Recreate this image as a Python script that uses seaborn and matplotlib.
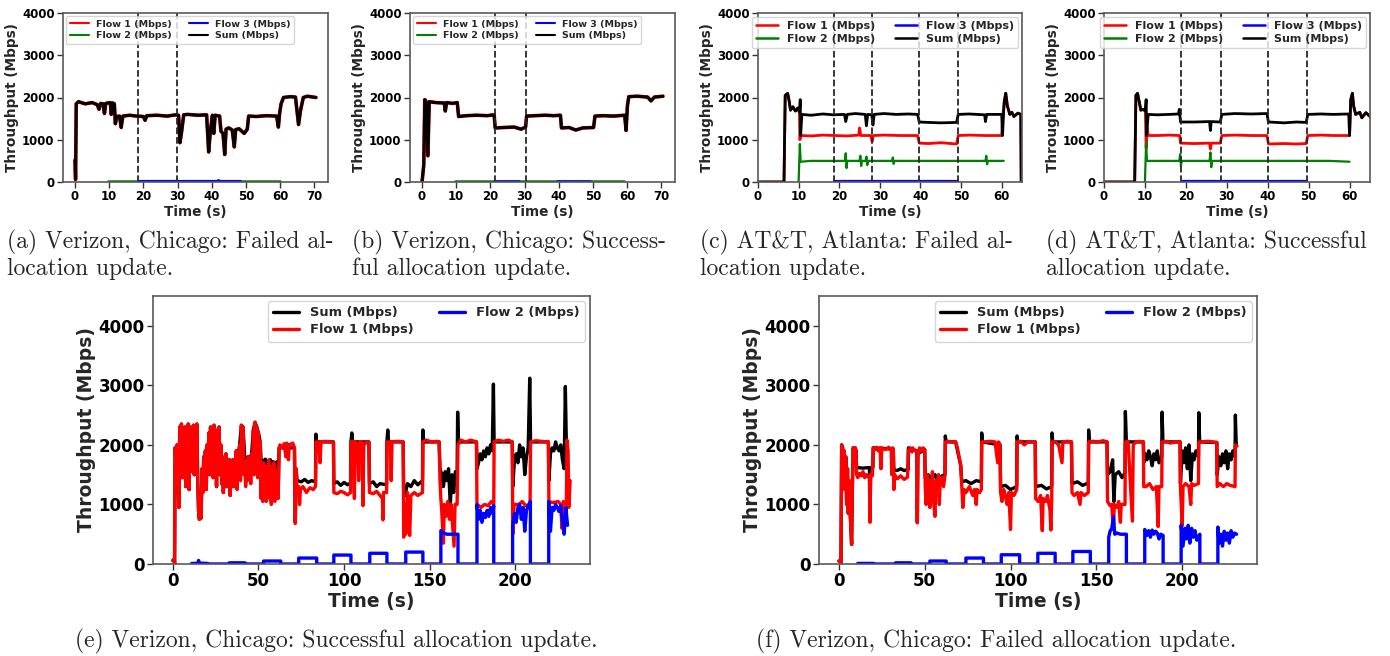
import numpy as np
import pandas as pd
import matplotlib
matplotlib.use("Agg")
import matplotlib.pyplot as plt
import seaborn as sns

# ---- data: (time s, Mbps) ----
# (a) Verizon Chicago, failed update -- Flow 1 and Sum overlap
a_trace = [(0, 520), (0.15, 60), (0.35, 1850), (1, 1900), (3, 1850), (5, 1880), (6.5, 1830), (7, 1720),
           (7.5, 1860), (8.2, 1850), (8.6, 1620), (9, 1860), (10.3, 1880), (10.6, 1600), (11, 1870),
           (11.5, 1850), (11.8, 1380), (12.2, 1550), (13, 1560), (13.5, 1290), (14, 1560), (16, 1580),
           (18, 1560), (20, 1550), (20.5, 1460), (21, 1570), (24, 1580), (27, 1560), (29.5, 1590),
           (30.3, 1580), (30.7, 930), (31.2, 1200), (31.8, 1590), (33, 1600), (36, 1580), (38.5, 1590),
           (39.1, 710), (39.6, 1200), (40.2, 1580), (40.6, 1150), (41, 1580), (42.3, 1560), (42.7, 1200),
           (43.3, 1150), (43.8, 650), (44.2, 1250), (45, 1280), (46, 1230), (46.6, 830), (47, 1240),
           (48, 1260), (49.5, 1150), (50.4, 1250), (50.8, 1560), (53, 1550), (56, 1570), (59, 1560),
           (59.5, 1300), (59.9, 1650), (60.3, 1850), (61, 2000), (63, 2020), (64.5, 2010), (65.4, 1360),
           (66, 1700), (66.8, 2000), (68, 2030), (70.5, 2000)]
a_flow2 = [(9.5, 20), (60, 20)]
a_flow3 = [(18.5, 20), (41.5, 20), (42, 40), (42.5, 20), (48.5, 20)]
a_events = [18.5, 29.8]

# (b) Verizon Chicago, successful update
b_trace = [(0, 0), (0.5, 400), (0.8, 1950), (1.2, 1900), (1.7, 620), (2.1, 1900), (4, 1880), (6.5, 1870),
           (6.8, 1680), (7.2, 1880), (9, 1860), (10.3, 1880), (10.7, 1550), (13, 1570), (16, 1580),
           (19, 1570), (21.1, 1590), (21.4, 1280), (24, 1290), (27, 1300), (29, 1250), (30.3, 1300),
           (30.6, 1560), (33, 1570), (36, 1580), (38.5, 1570), (40.5, 1580), (40.8, 1280), (43, 1290),
           (45, 1230), (47, 1280), (50.2, 1290), (50.6, 1560), (53, 1570), (56, 1560), (59.3, 1580),
           (59.7, 1220), (60.1, 1800), (60.5, 2020), (63, 2030), (66, 2010), (67, 1920), (68, 2010),
           (70.5, 2030)]
b_flow2 = [(9.5, 20), (59, 20)]
b_flow3 = [[(21.1, 20), (28.4, 20)], [(39.4, 20), (49.2, 20)]]
b_events = [21.3, 30.5]

# (c) AT&T Atlanta, failed update
c_start = [(0, 0), (6.4, 0), (6.7, 2050), (7.3, 2100), (7.7, 1900), (8, 1700), (8.6, 1780), (9.2, 1680),
           (9.8, 1750), (10.2, 1650)]
c_end = [(61, 2100), (61.4, 1800), (62, 1600), (62.5, 1650), (63, 1550), (64, 1630), (64.7, 1600), (64.8, 0)]
c_sum = [(10.4, 1950), (10.5, 1100), (10.8, 1600), (13, 1580), (16, 1610), (18.5, 1590), (21.3, 1600),
         (21.6, 1430), (22, 1600), (24, 1620), (26.4, 1600), (26.7, 1330), (27, 1600), (28, 1590),
         (28.3, 1350), (28.6, 1600), (31, 1620), (34, 1600), (37, 1610), (39.3, 1600), (39.7, 1420),
         (42, 1410), (45, 1400), (48.9, 1410), (49.3, 1600), (52, 1610), (55.8, 1590), (56, 1430),
         (56.3, 1600), (60, 1600), (60.2, 1100), (60.6, 1900)]
c_flow1 = [(10.3, 1000), (10.6, 1100), (13, 1090), (16, 1110), (19, 1100), (22, 1090), (24.8, 1110),
           (25, 1280), (25.3, 1100), (27.8, 1100), (28.1, 960), (28.4, 1100), (31, 1110), (35, 1100),
           (39.3, 1100), (39.7, 920), (42, 910), (45, 930), (48.9, 900), (49.3, 1100), (52, 1110),
           (56, 1100), (60, 1100), (60.3, 1600)]
c_flow2 = [(10, 0), (10.3, 900), (10.5, 480), (13, 500), (16, 500), (19, 500), (21.4, 500), (21.6, 680),
           (21.8, 330), (22, 500), (25, 500), (25.2, 620), (25.4, 380), (25.6, 500), (26.5, 500),
           (26.7, 600), (26.9, 400), (27.1, 500), (33, 500), (33.2, 580), (33.4, 430), (33.6, 500),
           (40, 500), (50, 500), (56, 500), (56.2, 620), (56.4, 420), (56.6, 500), (60.5, 500)]
c_flow3 = [(18.8, 12), (49.2, 12)]
c_events = [18.7, 28.0, 39.7, 49.2]

# (d) AT&T Atlanta, successful update
d_start = [(0, 0), (7.5, 0), (7.8, 2050), (8.2, 2100), (8.6, 1900), (9, 1700), (9.5, 1720), (10.1, 1680)]
d_end = [(60.3, 1950), (60.7, 2100), (61, 1800), (61.5, 1600), (62.5, 1650), (63, 1520), (64, 1640), (65, 1550)]
d_sum = [(10.3, 1950), (10.4, 1100), (10.8, 1600), (13, 1590), (16, 1600), (18.2, 1610), (18.4, 1720),
         (18.7, 1420), (22, 1420), (25.8, 1430), (26, 1220), (26.2, 1430), (28.4, 1420), (28.8, 1600),
         (32, 1620), (36, 1610), (39.8, 1620), (40.2, 1420), (44, 1400), (47, 1420), (49.4, 1410),
         (49.8, 1600), (53, 1610), (56, 1600), (59.8, 1610), (60, 1100)]
d_flow1 = [(10.3, 800), (10.5, 1300), (10.8, 1100), (13, 1100), (16, 1110), (18.5, 1100), (18.7, 920),
           (22, 910), (25.8, 920), (26, 780), (26.2, 920), (28.4, 920), (28.8, 1100), (32, 1110),
           (36, 1100), (39.8, 1100), (40.2, 900), (44, 910), (47, 900), (49.4, 910), (49.8, 1100),
           (53, 1110), (56, 1100), (60, 1100)]
d_flow2 = [(10, 0), (10.3, 950), (10.5, 500), (14, 500), (18.4, 500), (18.6, 660), (18.8, 380), (19, 500),
           (25.8, 500), (26, 700), (26.2, 350), (26.4, 500), (35, 500), (45, 500), (55, 500), (60, 480)]
d_flow3 = [(19, 12), (49.5, 12)]
d_events = [18.8, 28.5, 40.0, 49.5]

# (e) Verizon Chicago, successful update (long run)
e_start = [(0, 60), (0.8, 80), (1, 0), (1.3, 1950), (2, 1700), (2.5, 2000), (3, 1500), (3.5, 950), (4, 2300),
           (4.5, 1700), (5, 2350), (5.5, 1450), (6, 2100), (6.5, 1800), (7, 2300), (7.5, 1300), (8, 2250),
           (8.5, 1600), (9, 2350), (9.5, 1250), (10, 2300), (10.5, 1700), (11, 2280), (11.5, 1550),
           (12, 2330), (12.5, 1500), (13, 1900), (13.5, 1550), (14, 2350), (14.5, 1400), (15, 900),
           (15.5, 750), (16, 1100), (16.5, 770), (17, 1600), (17.5, 1200), (18, 1800), (18.5, 1350),
           (19, 1900), (19.5, 1250), (20, 2000), (20.5, 1600), (21, 2200), (21.5, 1500), (22, 2300),
           (22.5, 1700), (23, 2250), (23.5, 1450), (24, 2330), (24.5, 1900), (25, 2100), (25.5, 1300),
           (26, 2250), (26.5, 1700), (27, 2300), (27.5, 1500), (28, 2000), (28.5, 1350), (29, 1800),
           (29.5, 1200), (30, 1700), (30.5, 1500), (31, 1850), (31.5, 1300), (32, 1700), (32.5, 1450),
           (33, 1750), (33.5, 1150), (34, 1650), (34.5, 1500), (35, 1750), (35.5, 1300), (36, 1700),
           (36.5, 1500)]
e_flow1 = [(37, 1900), (37.5, 1250), (38, 1800), (38.5, 1500), (39, 2000), (39.5, 1400), (40, 2330),
           (40.5, 1800), (41, 2300), (41.5, 1500), (42, 1700), (42.5, 1300), (43, 1600), (43.5, 1400),
           (44, 1800), (44.5, 1500), (45, 1700), (45.5, 1350), (46, 1850), (46.5, 1600), (47, 2250),
           (47.5, 1500), (48, 2380), (48.5, 1700), (49, 2300), (49.5, 1450), (50, 2200), (50.5, 1600),
           (51, 2050), (51.5, 1100), (52, 1600), (52.5, 1050), (53, 1700), (53.5, 1300), (54, 1650),
           (54.5, 1050), (55, 1600), (55.5, 1400), (56, 1750), (56.5, 1100), (57, 1650), (57.5, 1000),
           (58, 1550), (58.5, 1250), (59, 1700), (59.5, 1050), (60, 1500), (60.5, 1200), (61, 1600),
           (61.5, 1100), (62, 1900), (62.5, 2000), (64, 1950), (65, 2020), (66, 1800), (66.5, 2030),
           (67.5, 1750), (68, 2000), (70, 2030), (71, 1950), (71.5, 680), (72, 1600), (72.5, 1250),
           (73.5, 1300), (74, 1000), (74.5, 1250), (76, 1300), (78, 1200), (80, 1280), (82, 1250),
           (83.3, 1300), (83.6, 2050), (85, 2050), (86, 1700), (86.5, 2050), (89, 2060), (92, 2050),
           (93.8, 2040), (94, 1200), (96, 1180), (98, 1220), (100, 1200), (102, 1160), (103.8, 1200),
           (104, 2050), (105.5, 2060), (106, 1100), (106.5, 2050), (108, 2000), (108.5, 1400),
           (109, 2050), (110.5, 2050), (111, 980), (111.5, 2000), (113.5, 2050), (114.5, 2040),
           (114.8, 1200), (117, 1180), (119, 1220), (121, 1150), (122.4, 1100), (122.7, 740), (123, 1200),
           (124.8, 1200), (125, 2050), (127, 2050), (127.5, 1400), (128, 2050), (131, 2060), (134.5, 2050),
           (134.8, 450), (135.5, 1000), (136, 500), (137, 1200), (138.3, 480), (139, 1150), (141, 1200),
           (143, 1150), (145.8, 1200), (146, 2050), (148, 2080), (151, 2050), (154, 2060), (155.5, 2050),
           (156, 1400), (156.5, 1100), (157, 900), (158, 350), (158.5, 1000), (159.5, 800), (160.5, 1050),
           (161.5, 750), (162.5, 1000), (163.5, 600), (164.2, 300), (164.8, 1000), (166, 1000),
           (166.5, 2000), (168, 2080), (171, 2050), (174, 2080), (177.3, 2050), (177.6, 1000), (180, 950),
           (182, 1000), (184, 980), (186, 1050), (187.4, 1000), (187.6, 2050), (190, 2080), (193, 2060),
           (196, 2080), (198.2, 2050), (198.5, 500), (199.3, 1000), (202, 1000), (204, 1050), (206, 980),
           (208.6, 1000), (208.9, 2050), (212, 2070), (215, 2060), (219.3, 2050), (219.6, 1050),
           (222, 1030), (225, 1050), (226.5, 1000), (227.2, 600), (228, 1050), (229.8, 1000),
           (230.2, 2080), (230.8, 1900), (231.2, 950), (232, 1400)]
e_sum = [(37, 1900), (38, 1800), (39, 2000), (40, 2330), (41, 2300), (42, 1780), (43, 1760), (44, 1800),
         (45, 1780), (46, 1850), (47, 2250), (48, 2380), (49, 2300), (50, 2200), (51, 2050), (51.5, 1750),
         (52.5, 1720), (54, 1760), (54.5, 1100), (55, 1700), (57, 1750), (57.5, 1050), (58, 1720),
         (60, 1700), (61, 1720), (61.5, 1150), (62, 1950), (71, 1950), (71.5, 700), (72, 1600),
         (72.5, 1400), (75, 1380), (77, 1420), (79, 1370), (81, 1400), (83.3, 1380), (83.5, 2180),
         (84, 2050), (93.8, 2050), (94, 1350), (96, 1380), (98, 1320), (100, 1370), (102, 1330),
         (103.8, 1360), (104, 2050), (104.5, 2200), (105, 2050), (114.5, 2050), (114.8, 1350),
         (117, 1380), (119, 1300), (121, 1350), (124.8, 1330), (125, 2050), (125.5, 2250), (126, 2050),
         (134.5, 2050), (134.8, 1200), (135.5, 1150), (137, 1350), (139, 1300), (141, 1400), (143, 1330),
         (145.8, 1400), (146, 2250), (146.5, 2050), (155.5, 2050), (156, 1600), (157, 1500), (158, 1300),
         (159, 1550), (160, 1400), (161, 1600), (162, 1000), (163, 1500), (164, 1200), (165, 1550),
         (166, 1500), (166.3, 2550), (166.8, 2050), (177.3, 2050), (177.6, 1600), (178.5, 1700),
         (179.5, 1850), (180.5, 1750), (181.5, 1900), (182.5, 1800), (183.5, 1950), (184.5, 1850),
         (185.5, 2000), (186.5, 1900), (187.2, 3020), (187.6, 2050), (198.2, 2050), (198.5, 1300),
         (199.5, 1750), (200.5, 1850), (201.5, 1700), (202.5, 2000), (203.5, 1800), (204.5, 1950),
         (205.5, 1500), (206.5, 1800), (207.5, 1950), (208.4, 3120), (208.9, 2050), (219.3, 2050),
         (219.6, 1400), (220.5, 1850), (221.5, 1950), (222.5, 1900), (223.5, 2050), (224.5, 1950),
         (225.5, 1900), (226.5, 2000), (227.5, 1750), (228.5, 1600), (229.2, 2980), (229.8, 2000),
         (230.5, 2050)]
e_flow2 = [(11, 0), (11, 10), (14.5, 10), (15, 60), (15.5, 15), (20, 10), (20, 0), (33, 0), (33, 20), (42, 20),
           (42, 0), (53, 0), (53, 50), (63, 50), (63, 0), (73.5, 0), (73.5, 100), (84, 100), (84, 0),
           (94, 0), (94, 150), (104, 150), (104, 0), (115, 0), (115, 180), (125, 180), (125, 0), (136, 0),
           (136, 200), (146, 200), (146, 0), (156.5, 0), (156.5, 560), (158, 520), (160, 500), (166.5, 500),
           (166.5, 0), (177.6, 0), (177.6, 1000), (178.5, 750), (179.5, 900), (180.5, 700), (181.5, 850),
           (182.5, 780), (183.5, 900), (184.5, 800), (185.5, 950), (186.5, 850), (187.4, 980), (187.4, 0),
           (198.4, 0), (198.4, 650), (199.5, 850), (200.5, 700), (201.5, 950), (202.5, 1000), (203.5, 750),
           (204.5, 950), (205.5, 550), (206.5, 900), (207.5, 980), (208.8, 1050), (208.8, 0), (219.5, 0),
           (219.5, 1050), (220.5, 550), (221.5, 950), (222.5, 900), (223.5, 1000), (224.5, 950),
           (225.5, 880), (226.5, 980), (227.5, 700), (228.5, 500), (229.5, 950), (230.5, 650)]

# (f) Verizon Chicago, failed update (long run)
f_start = [(0, 50), (0.8, 60), (1.2, 0), (1.6, 2000), (2.2, 1950), (2.6, 1300), (3, 1900), (3.5, 1250),
           (4, 1800), (4.5, 1000), (5, 1600), (5.5, 850), (6, 1400), (6.5, 900), (7, 600), (7.4, 330),
           (7.8, 1200), (8.3, 1950), (9, 1850), (9.5, 1950), (10, 1900)]
f_flow1 = [(10.3, 1500), (11, 1450), (12, 1520), (13, 1480), (14, 1550), (15, 1450), (16, 1500), (17, 1470),
           (17.8, 1450), (18.1, 700), (18.5, 1500), (19.5, 1480), (20, 1950), (21, 1920), (22, 1960),
           (23, 1900), (24, 1950), (24.5, 1600), (25, 1950), (27, 1920), (29, 1960), (30.5, 1900),
           (30.8, 1500), (31.3, 1950), (31.7, 1930), (32, 1250), (32.5, 1500), (34, 1430), (36, 1480),
           (38, 1420), (40, 1460), (40.5, 1900), (41.5, 1950), (42.5, 1880), (43, 1950), (44, 1900),
           (45.4, 1900), (45.7, 690), (46, 1800), (47, 1950), (48, 1900), (49, 1950), (50, 1920),
           (50.3, 1300), (50.8, 1000), (51.5, 1500), (52, 1050), (52.5, 1400), (53, 950), (54, 1300),
           (54.5, 1550), (55, 1100), (56, 800), (56.5, 1400), (57, 1150), (58, 1500), (58.5, 1000),
           (59, 1350), (60, 1450), (61, 1300), (61.8, 1500), (62, 2050), (64, 2060), (66, 2050), (68, 2050),
           (69, 1950), (70, 1800), (71, 1650), (71.6, 1300), (72.2, 950), (73, 1250), (74, 1200), (76, 1300),
           (78, 1150), (79, 1250), (80, 1000), (80.5, 1250), (82, 1200), (83, 1250), (83.2, 2050), (85, 2050),
           (88, 2060), (91, 2050), (92.5, 1700), (93, 2050), (93.9, 2000), (94.2, 1200), (95, 1050),
           (96, 1250), (97, 1150), (98, 1000), (99, 1200), (100, 580), (100.5, 1200), (102, 1150),
           (103.6, 1250), (103.8, 2050), (106, 2060), (108, 2000), (110, 2050), (113, 2050), (114.4, 2050),
           (114.6, 1100), (116, 1050), (117.5, 1150), (118.5, 560), (119, 1100), (120.5, 1050),
           (121.5, 1150), (123, 900), (123.5, 570), (124, 1100), (124.2, 2050), (126, 2050), (128, 2000),
           (130, 1700), (130.5, 2050), (133, 2060), (135.5, 2050), (135.8, 1200), (137, 1150), (139, 1200),
           (140.5, 1000), (141, 1200), (143, 1150), (145.3, 1200), (145.5, 2050), (148, 2060), (151, 2050),
           (154, 2070), (156.2, 2050), (156.5, 1050), (158, 980), (159, 1000), (159.8, 580), (160.5, 1000),
           (162, 950), (163, 1050), (164, 700), (164.5, 1000), (166.7, 1000), (166.9, 2050), (168.5, 2060),
           (171, 720), (171.5, 2000), (173, 2050), (175, 2060), (177.4, 2050), (177.6, 1300), (179, 1300),
           (181, 1350), (183, 1250), (185, 1300), (186, 630), (186.5, 1300), (188.1, 1300), (188.3, 2050),
           (191, 2060), (193, 2030), (196, 2050), (198.8, 2050), (199, 1300), (200, 640), (200.5, 1300),
           (202, 1350), (204, 1300), (205, 1000), (205.5, 1350), (207, 1320), (209.5, 1350), (209.7, 2050),
           (212, 2050), (215, 2060), (218, 2050), (220.2, 2040), (220.4, 1300), (222, 1350), (224, 1300),
           (226, 1350), (228, 1320), (230.8, 1300), (231, 2000), (232, 1980)]
f_sum = [(10.3, 1620), (14, 1610), (17.8, 1620), (18.1, 720), (18.5, 1610), (19.8, 1620), (20, 1950),
         (31.7, 1930), (32, 1580), (34, 1570), (36, 1600), (38, 1570), (40.3, 1590), (40.5, 1950),
         (45.4, 1900), (45.7, 700), (46, 1850), (50, 1920), (50.3, 1450), (52, 1500), (54, 1420), (56, 1500),
         (58, 1350), (60, 1480), (61.8, 1500), (62, 2150), (62.5, 2050), (68, 2050), (71, 1650),
         (71.6, 1380), (74, 1400), (77, 1350), (80, 1400), (83, 1380), (83.2, 2200), (83.6, 2050),
         (93.9, 2000), (94.2, 1300), (97, 1320), (100, 1250), (103.6, 1300), (103.8, 2150), (104.2, 2050),
         (114.4, 2050), (114.6, 1300), (118, 1320), (121, 1260), (124, 1300), (124.2, 2200), (124.6, 2050),
         (135.5, 2050), (135.8, 1350), (139, 1380), (142, 1320), (145.3, 1360), (145.5, 2250),
         (145.9, 2050), (156.2, 2050), (156.5, 1500), (158, 1550), (159.5, 1750), (160.2, 1050),
         (161, 1500), (163, 1550), (165, 1450), (166.7, 1530), (166.9, 2560), (167.5, 2050), (177.4, 2050),
         (177.6, 1700), (178.5, 1850), (179.5, 1750), (180.5, 1900), (181.5, 1800), (182.5, 1650),
         (183.5, 1850), (184.5, 1750), (185.5, 1900), (186.5, 1700), (188.1, 1800), (188.3, 2550),
         (188.8, 2050), (198.8, 2050), (199, 1350), (200, 1900), (201, 1700), (202, 1950), (203, 1600),
         (204, 2000), (205, 1400), (206, 1850), (207, 1750), (208, 1900), (209.5, 1800), (209.7, 2540),
         (210.2, 2050), (220.2, 2040), (220.4, 1500), (221.5, 1800), (222.5, 1650), (223.5, 1850),
         (224.5, 1700), (225.5, 1900), (226.5, 1600), (227.5, 1850), (228.5, 1750), (229.5, 1900),
         (230.8, 1800), (231, 2500), (231.5, 2000)]
f_flow2 = [(11, 0), (11, 10), (20, 10), (20, 0), (33, 0), (33, 20), (42, 20), (42, 0), (53, 0), (53, 50),
           (62.5, 50), (62.5, 0), (74, 0), (74, 100), (84.2, 100), (84.2, 0), (94.6, 0), (94.6, 155),
           (105.3, 155), (105.3, 0), (115.9, 0), (115.9, 180), (126, 180), (126, 0), (136.3, 0), (136.3, 210),
           (146.5, 210), (146.5, 0), (157.2, 0), (157.2, 450), (158, 550), (159, 600), (160, 800),
           (160.7, 500), (162, 520), (164, 500), (167.5, 500), (167.5, 0), (178.2, 0), (178.2, 580),
           (179.5, 480), (180.5, 560), (181.5, 450), (182.5, 570), (183.5, 500), (184.5, 550), (185.5, 520),
           (186.5, 420), (187.5, 500), (188.9, 480), (188.9, 0), (199.4, 0), (199.4, 650), (200.5, 300),
           (201.5, 600), (202.5, 420), (203.5, 650), (204.5, 350), (205.5, 600), (206.5, 450), (207.5, 560),
           (208.5, 400), (210.3, 500), (210.3, 0), (220.8, 0), (220.8, 620), (221.5, 350), (222.5, 500),
           (223.5, 300), (224.5, 550), (225.5, 400), (226.5, 520), (227.5, 350), (228.5, 560), (229.5, 450),
           (230.5, 520), (231.7, 500)]

captions_top = [("(a) Verizon, Chicago: Failed al-", "location update."),
                ("(b) Verizon, Chicago: Success-", "ful allocation update."),
                ("(c) AT&T, Atlanta: Failed al-", "location update."),
                ("(d) AT&T, Atlanta: Successful", "allocation update.")]
captions_bottom = ["(e) Verizon, Chicago: Successful allocation update.",
                   "(f) Verizon, Chicago: Failed allocation update."]

RED, GREEN, BLUE, BLACK = "#ff0000", "#008000", "#0000ff", "#000000"

sns.set_style("ticks")
plt.rcParams["font.family"] = ["DejaVu Sans"]
plt.rcParams["font.weight"] = "bold"
plt.rcParams["axes.edgecolor"] = "0.35"
plt.rcParams["axes.linewidth"] = 1.2
plt.rcParams["xtick.color"] = "0.2"
plt.rcParams["ytick.color"] = "0.2"
plt.rcParams["xtick.labelcolor"] = "black"
plt.rcParams["ytick.labelcolor"] = "black"

W, H = 1390, 656
fig = plt.figure(figsize=(W / 100, H / 100), dpi=100)


def box(l, t, r, b):
    return fig.add_axes([l / W, 1 - b / H, (r - l) / W, (b - t) / H])


def line(ax, pts, color, lw, label=None):
    df = pd.DataFrame(pts, columns=["t", "v"])
    sns.lineplot(data=df, x="t", y="v", ax=ax, color=color, linewidth=lw,
                 label=label if label else "_nolegend_", estimator=None, sort=False)


def style(ax, tick_fs, lab_fs):
    ax.set_xlabel("Time (s)", fontsize=lab_fs, fontweight="bold", labelpad=1)
    ax.set_ylabel("Throughput (Mbps)", fontsize=lab_fs, fontweight="bold", labelpad=2)
    ax.tick_params(labelsize=tick_fs, length=4, width=1, pad=2)


def legend(ax, fs, loc, handle_lw, **kw):
    leg = ax.legend(ncol=2, loc=loc, fontsize=fs, handlelength=2.0, labelspacing=0.3, **kw)
    for h in leg.get_lines():
        h.set_linewidth(handle_lw)


# ---- top row ----
top_boxes = [(63, 13, 328, 182), (410, 13, 675, 182), (758, 13, 1022, 182), (1104, 13, 1370, 182)]
caption_x = [7, 352, 700, 1046]
for i, bx in enumerate(top_boxes):
    ax = box(*bx)
    if i == 0:
        line(ax, a_trace, RED, 2.6, "Flow 1 (Mbps)")
        line(ax, a_flow2, GREEN, 1.8, "Flow 2 (Mbps)")
        line(ax, a_flow3, BLUE, 1.8, "Flow 3 (Mbps)")
        line(ax, a_trace, BLACK, 2.2, "Sum (Mbps)")
        events = a_events
    elif i == 1:
        line(ax, b_trace, RED, 2.6, "Flow 1 (Mbps)")
        line(ax, b_flow2, GREEN, 1.8, "Flow 2 (Mbps)")
        line(ax, b_flow3[0], BLUE, 1.8, "Flow 3 (Mbps)")
        line(ax, b_flow3[1], BLUE, 1.8)
        line(ax, b_trace, BLACK, 2.2, "Sum (Mbps)")
        events = b_events
    elif i == 2:
        line(ax, c_start + c_flow1 + c_end, RED, 2.0, "Flow 1 (Mbps)")
        line(ax, c_flow2, GREEN, 1.6, "Flow 2 (Mbps)")
        line(ax, c_flow3, BLUE, 1.6, "Flow 3 (Mbps)")
        line(ax, c_start + c_sum + c_end, BLACK, 2.0, "Sum (Mbps)")
        events = c_events
    else:
        line(ax, d_start + d_flow1 + d_end, RED, 2.0, "Flow 1 (Mbps)")
        line(ax, d_flow2, GREEN, 1.6, "Flow 2 (Mbps)")
        line(ax, d_flow3, BLUE, 1.6, "Flow 3 (Mbps)")
        line(ax, d_start + d_sum + d_end, BLACK, 2.0, "Sum (Mbps)")
        events = d_events
    for ev in events:
        ax.axvline(ev, color="0.15", ls="--", lw=1.3)
    ax.set_ylim(0, 4000)
    ax.set_yticks([0, 1000, 2000, 3000, 4000])
    if i < 2:
        ax.set_xticks(range(0, 71, 10))
        style(ax, 8.5, 9.8)
        legend(ax, 6.8, "upper left", 1.5, borderaxespad=0.35, columnspacing=1.8, borderpad=0.35)
    else:
        ax.set_xlim(0, 65)
        ax.set_xticks(range(0, 61, 10))
        style(ax, 8.5, 9.8)
        legend(ax, 8.0, "upper right", 1.8, borderaxespad=0.35, columnspacing=1.8, borderpad=0.35)
    l1, l2 = captions_top[i]
    for txt, yb in ((l1, 248), (l2, 275)):
        fig.text(caption_x[i] / W, 1 - yb / H, txt, family=["cmr10", "DejaVu Serif"],
                 fontsize=17, fontweight="normal", va="baseline", ha="left")

# ---- bottom row ----
bottom_boxes = [(153, 296, 590, 564), (819, 296, 1257, 564)]
bottom_sets = [(e_start + e_sum, e_start + e_flow1, e_flow2),
               (f_start + f_sum, f_start + f_flow1, f_flow2)]
caption_cx = [336, 996]
for i, bx in enumerate(bottom_boxes):
    ax = box(*bx)
    s, f1, f2 = bottom_sets[i]
    line(ax, s, BLACK, 2.4, "Sum (Mbps)")
    line(ax, f1, RED, 2.4, "Flow 1 (Mbps)")
    line(ax, f2, BLUE, 2.4, "Flow 2 (Mbps)")
    ax.set_ylim(0, 4500)
    ax.set_yticks([0, 1000, 2000, 3000, 4000])
    ax.set_xticks([0, 50, 100, 150, 200])
    style(ax, 12, 13.5)
    legend(ax, 9.4, "upper right", 2.4, borderaxespad=0.4, columnspacing=2.0, borderpad=0.4)
    fig.text(caption_cx[i] / W, 1 - 647 / H, captions_bottom[i], family=["cmr10", "DejaVu Serif"],
             fontsize=17, fontweight="normal", va="baseline", ha="center")

fig.savefig("out.png", dpi=100)
